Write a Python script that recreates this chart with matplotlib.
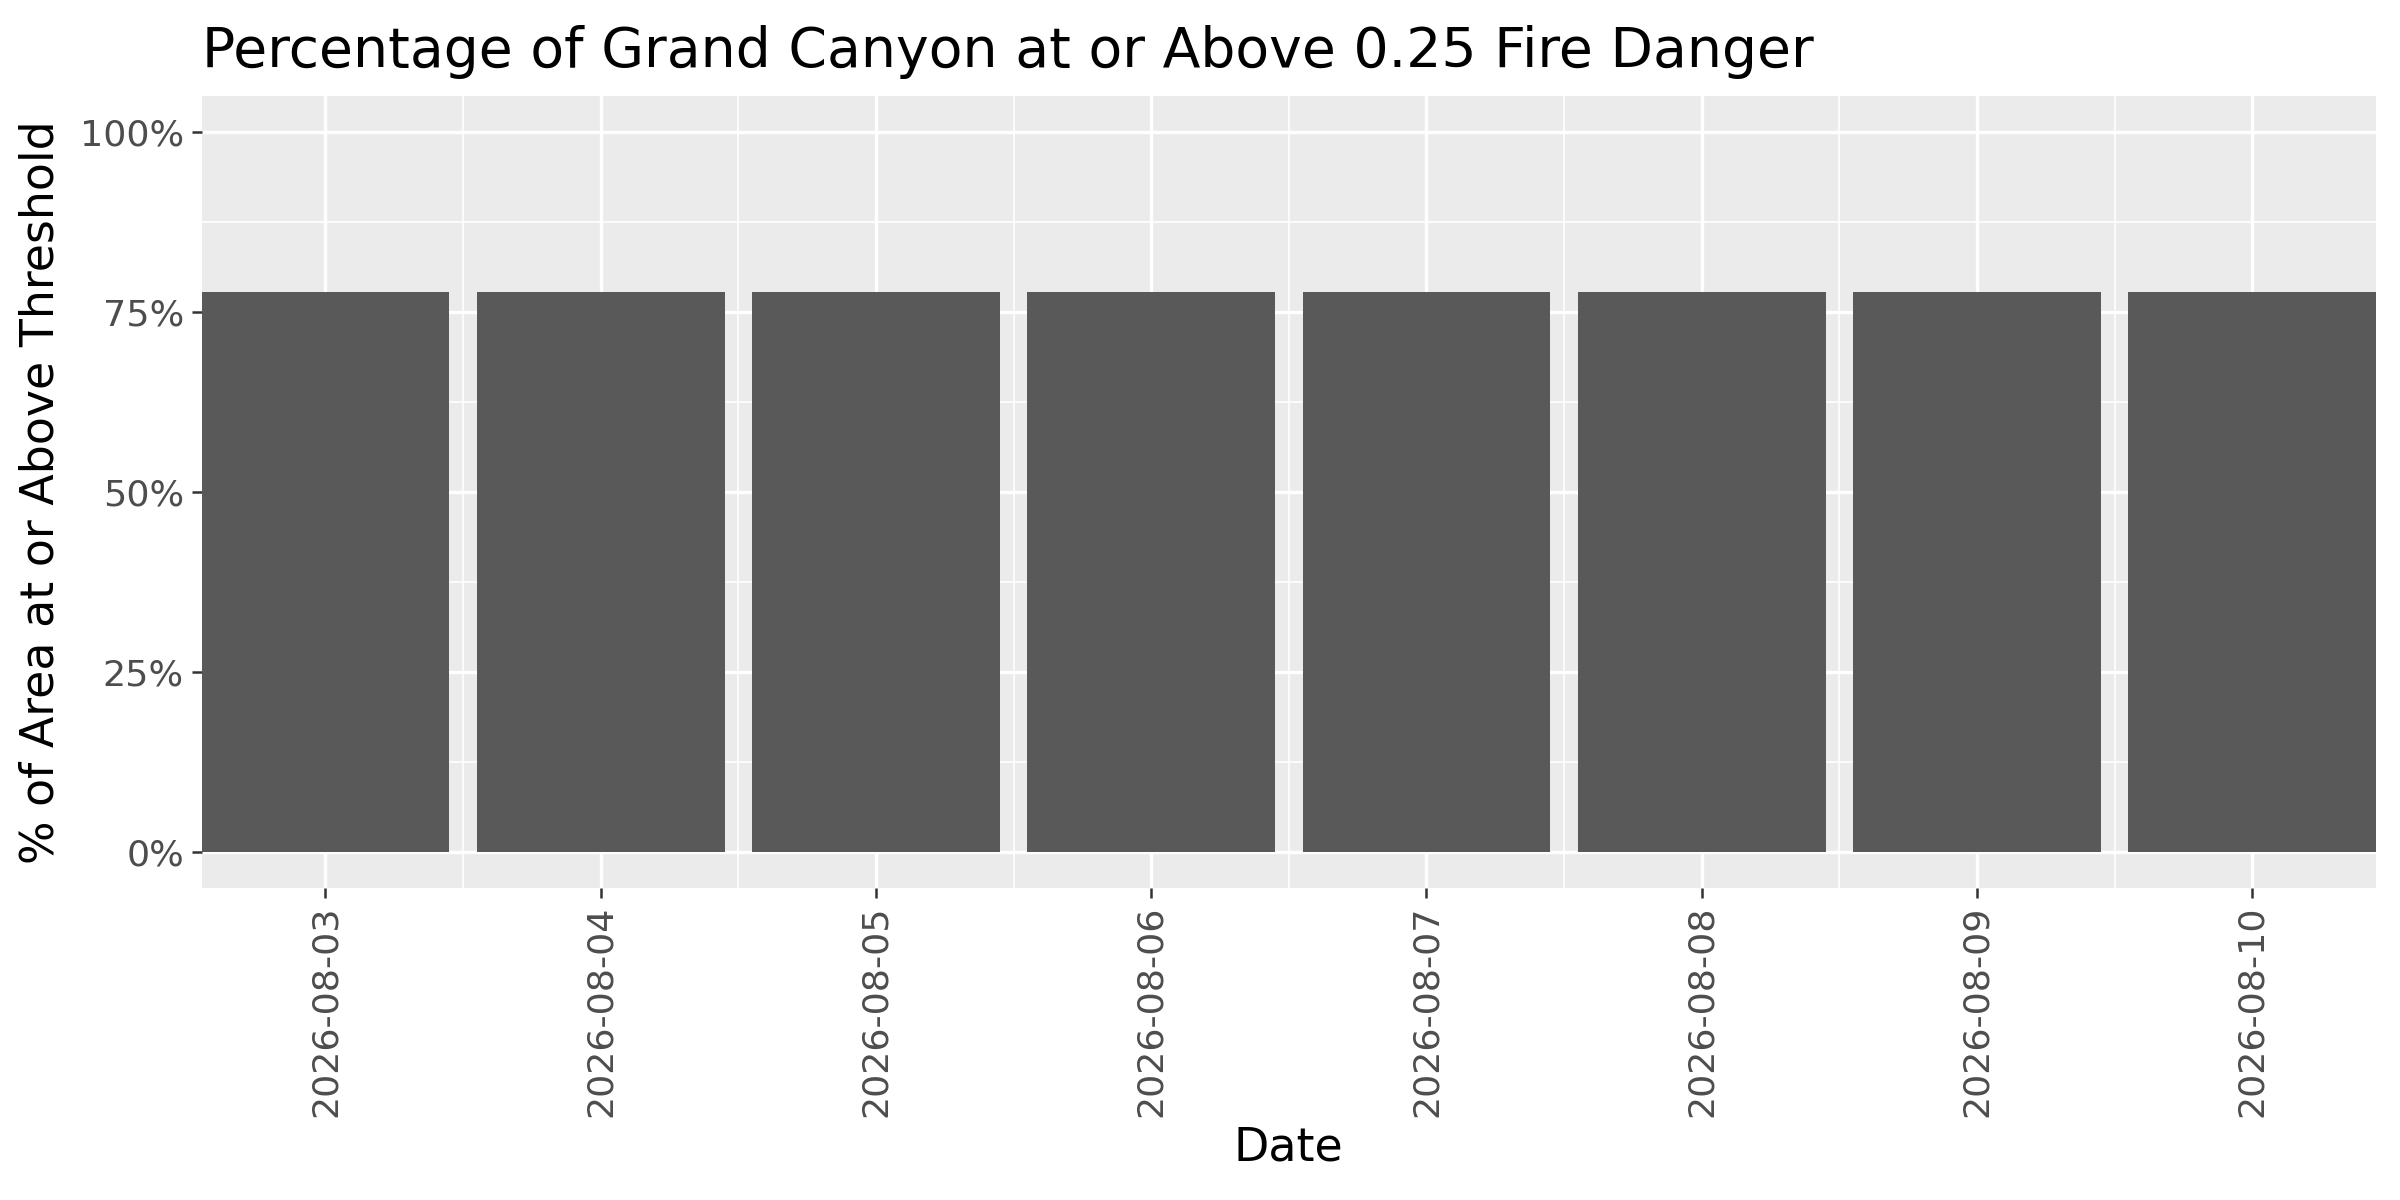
import numpy as np
import matplotlib.pyplot as plt

# data
dates = ['2026-08-03', '2026-08-04', '2026-08-05', '2026-08-06',
         '2026-08-07', '2026-08-08', '2026-08-09', '2026-08-10']
pct = [77.8, 77.8, 77.8, 77.8, 77.8, 77.8, 77.8, 77.8]
yTicks = [0, 25, 50, 75, 100]
yTickLabels = ['0%', '25%', '50%', '75%', '100%']

fig = plt.figure(figsize=[16, 8], dpi=150, facecolor='white')
ax = fig.add_axes([0.084, 0.26, 0.906, 0.66])
ax.set_facecolor('#EBEBEB')

xPos = np.arange(1, len(dates) + 1)
ax.bar(xPos, pct, width=0.9, color='#595959', zorder=3)

ax.set_xlim(0.55, len(dates) + 0.45)
ax.set_ylim(-5, 105)

# gridlines, ggplot-ish
ax.set_xticks(xPos)
ax.set_xticks(xPos[:-1] + 0.5, minor=True)
ax.set_yticks(yTicks)
ax.set_yticks([12.5, 37.5, 62.5, 87.5], minor=True)
ax.grid(which='major', color='white', linewidth=1.6, zorder=0)
ax.grid(which='minor', color='white', linewidth=0.8, zorder=0)
ax.set_axisbelow(True)

ax.set_xticklabels(dates, rotation=90)
ax.set_yticklabels(yTickLabels)
for axis in ['top', 'bottom', 'left', 'right']:
    ax.spines[axis].set_visible(False)
ax.tick_params(axis='both', which='major', colors='#333333', labelcolor='#4D4D4D',
               labelsize=17.5, length=5, width=1.2)
ax.tick_params(axis='both', which='minor', length=0)

ax.set_xlabel('Date', fontsize=22, color='black', labelpad=4)
ax.set_ylabel('% of Area at or Above Threshold', fontsize=22, color='black', labelpad=8)
ax.set_title('Percentage of Grand Canyon at or Above 0.25 Fire Danger',
             fontsize=26.5, loc='left', pad=14)

plt.savefig('out.png', dpi=150, facecolor='white')
